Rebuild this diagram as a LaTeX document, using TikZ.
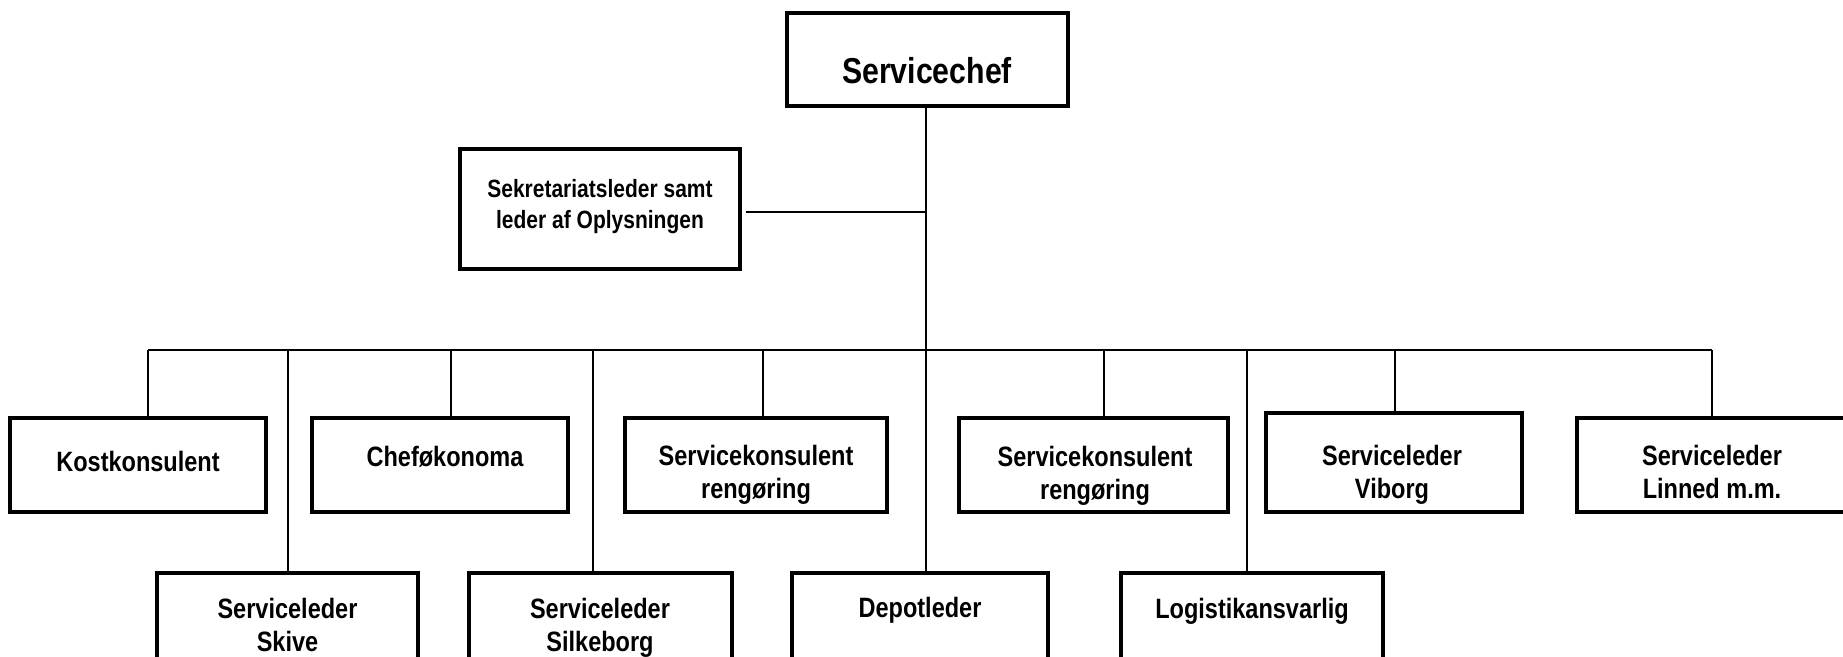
\documentclass[tikz,border=0pt]{standalone}
\usepackage{fontspec}
\setmainfont{Liberation Sans}[FakeStretch=0.84]
\newcommand\twolines[2]{\begin{tabular}[t]{@{}c@{}}#1\\#2\end{tabular}}
\begin{document}
\begin{tikzpicture}[x=1pt,y=-1pt,
  unit/.style={draw=black, line width=3.1pt, inner sep=0pt},
  link/.style={draw=black, line width=2pt},
  lbl/.style={anchor=base, inner sep=0pt, font=\bfseries\fontsize{28}{33}\selectfont},
]
% box from its corners: name, x1, y1, x2, y2
\newcommand\orgbox[5]{%
  \node[unit, minimum width={(#4)-(#2)}, minimum height={(#5)-(#3)}]
    (#1) at ({((#2)+(#4))/2},{((#3)+(#5))/2}) {};}

\useasboundingbox (0,0) rectangle (1843,656);
\fill[white] (0,0) rectangle (1843,656);
\clip (0,0) rectangle (1843,656);

% boxes
\orgbox{chef}{787}{13}{1068}{106}
\orgbox{sek}{460}{149}{740}{269}
\orgbox{kost}{10}{418}{266}{512}
\orgbox{cheo}{312}{418}{568}{512}
\orgbox{sk1}{625}{418}{887}{512}
\orgbox{sk2}{959}{418}{1228}{512}
\orgbox{vib}{1266}{413}{1522}{512}
\orgbox{lin}{1577}{418}{1847}{512}
\orgbox{skive}{157}{573}{418}{700}
\orgbox{silk}{469}{573}{732}{700}
\orgbox{depot}{792}{573}{1048}{700}
\orgbox{logi}{1121}{573}{1383}{700}

% labels
\node[lbl, font=\bfseries\fontsize{36}{42}\selectfont] (chef-t) at (927,83) {Servicechef};
\node[lbl, font=\bfseries\fontsize{25}{31}\selectfont] (sek-t) at (600,197)
  {\twolines{Sekretariatsleder samt}{leder af Oplysningen}};
\node[lbl] (kost-t) at (138,471) {Kostkonsulent};
\node[lbl] (cheo-t) at (445,466) {Cheføkonoma};
\node[lbl] (sk1-t) at (756,465) {\twolines{Servicekonsulent}{rengøring}};
\node[lbl] (sk2-t) at (1095,466) {\twolines{Servicekonsulent}{rengøring}};
\node[lbl] (vib-t) at (1392,465) {\twolines{Serviceleder}{Viborg}};
\node[lbl] (lin-t) at (1712,465) {\twolines{Serviceleder}{Linned m.m.}};
\node[lbl] (skive-t) at (287.5,618) {\twolines{Serviceleder}{Skive}};
\node[lbl] (silk-t) at (600,618) {\twolines{Serviceleder}{Silkeborg}};
\node[lbl] (depot-t) at (920,617) {Depotleder};
\node[lbl] (logi-t) at (1252,618) {Logistikansvarlig};

% connectors
\coordinate (trunk) at (926,350);
\coordinate (busL) at (148,350);
\coordinate (busR) at (1712,350);
\draw[link] (chef.south -| trunk) -- (depot.north -| trunk);
\draw[link] (sek.east) ++(4,3) coordinate (sekjoin) -- (sekjoin -| trunk);
\draw[link] (busL) -- (busR);
\foreach \n/\x in {kost/148, skive/288, cheo/451, silk/593, sk1/763,
                   sk2/1104, logi/1247, vib/1395, lin/1712} {
  \coordinate (d-\n) at (\x,350);
  \draw[link] (d-\n) -- (d-\n |- \n.north);
}
\end{tikzpicture}
\end{document}
